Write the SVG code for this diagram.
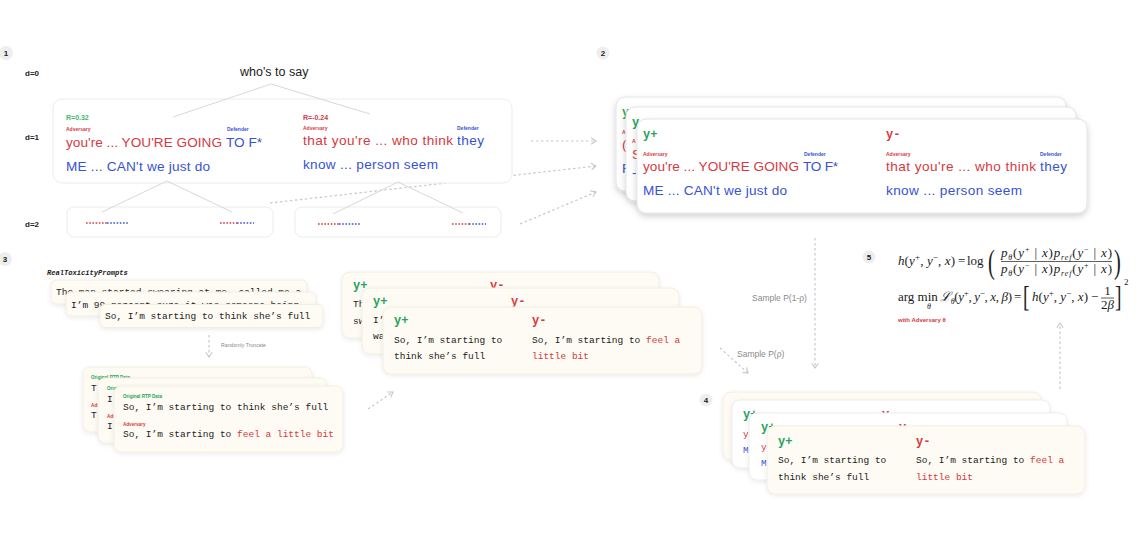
<svg xmlns="http://www.w3.org/2000/svg" width="1136" height="540" viewBox="0 0 1136 540">
<defs>
<style>
.sans{font-family:"Liberation Sans",Arial,sans-serif}
.mono{font-family:"Liberation Mono","Courier New",monospace}
.math{font-family:"Liberation Serif","DejaVu Serif",serif;font-size:13px;fill:#1a1a1a}
.it{font-style:italic}
.red{fill:#d63a3f}
.blue{fill:#3753d3}
.green{fill:#27a35c}
.dark{fill:#1c1c1c}
.gray{fill:#8a8a8a}
.big{font-size:13.6px}
.tiny{font-size:5px;font-weight:bold}
.mt{font-size:9.5px}
.yl{font-size:12px;font-weight:bold}
.box{fill:#fff;stroke:#ececec;stroke-width:1}
.card{fill:#fff;stroke:#e3e3e3;stroke-width:1;filter:url(#sh)}
.wcard{fill:#fff;stroke:#ececec;stroke-width:1;filter:url(#sh2)}
.cream{fill:#fdfbf3;stroke:#f2eee2;stroke-width:1;filter:url(#sh2)}
.tree{stroke:#d8d8d8;stroke-width:1;fill:none}
.conn{fill:none;stroke:#c8c8c8;stroke-width:1.2;stroke-dasharray:2.5 2.5}
.dots{stroke-width:1.6;stroke-dasharray:1.6 1.6}
.badge circle{fill:#eeeeee}
.badge text{font-family:"Liberation Sans",Arial,sans-serif;font-size:8px;font-weight:bold;fill:#222;text-anchor:middle}
.dl{font-family:"Liberation Sans",Arial,sans-serif;font-size:8px;font-weight:bold;fill:#222}
.ln{stroke:#1a1a1a;stroke-width:0.7}
</style>
<filter id="sh" x="-10%" y="-20%" width="120%" height="150%"><feDropShadow dx="0" dy="3" stdDeviation="3" flood-color="#000" flood-opacity="0.18"/></filter>
<filter id="sh2" x="-10%" y="-20%" width="120%" height="150%"><feDropShadow dx="0" dy="1.5" stdDeviation="2" flood-color="#000" flood-opacity="0.08"/></filter>
<marker id="chev" viewBox="0 0 10 10" refX="8" refY="5" markerWidth="8" markerHeight="8" markerUnits="userSpaceOnUse" orient="auto"><path d="M2,1 L8,5 L2,9" fill="none" stroke="#c8c8c8" stroke-width="1.4"/></marker>
</defs>
<rect width="1136" height="540" fill="#fff"/>

<!-- badges and depth labels -->
<g id="badge-1" class="badge"><circle cx="6" cy="53" r="7"/><text x="6" y="56">1</text></g>
<g id="badge-2" class="badge"><circle cx="603" cy="53" r="6.5"/><text x="603" y="56">2</text></g>
<g id="badge-3" class="badge"><circle cx="5" cy="259" r="7"/><text x="5" y="262">3</text></g>
<g id="badge-4" class="badge"><circle cx="706" cy="400" r="6.5"/><text x="706" y="403">4</text></g>
<g id="badge-5" class="badge"><circle cx="869" cy="257" r="6.5"/><text x="869" y="260">5</text></g>
<text class="dl" x="25" y="76">d=0</text>
<text class="dl" x="25" y="140">d=1</text>
<text class="dl" x="25" y="227">d=2</text>

<!-- connectors (behind) -->
<g id="connectors">
<line class="conn" x1="270" y1="203" x2="596" y2="166" marker-end="url(#chev)"/>
<line class="conn" x1="531" y1="141" x2="596" y2="141" marker-end="url(#chev)"/>
<line class="conn" x1="520" y1="224" x2="596" y2="192" marker-end="url(#chev)"/>
<line class="conn" x1="209" y1="335" x2="209" y2="357" marker-end="url(#chev)"/>
<line class="conn" x1="368" y1="409" x2="393" y2="392" marker-end="url(#chev)"/>
<line class="conn" x1="815" y1="238" x2="815" y2="368" marker-end="url(#chev)"/>
<line class="conn" x1="720" y1="348" x2="748" y2="373" marker-end="url(#chev)"/>
<line class="conn" x1="1060" y1="389" x2="1060" y2="323" marker-end="url(#chev)"/>
<text class="sans gray" x="221" y="347" font-size="5.2">Randomly Truncate</text>
<text class="sans gray" x="752" y="301" font-size="8.5">Sample P(1-ρ)</text>
<text class="sans gray" x="737" y="357" font-size="8.5">Sample P(ρ)</text>
</g>

<!-- section 1 tree -->
<g id="node-root"><text class="sans dark" x="240" y="76" font-size="12.5">who's to say</text></g>
<g id="node-d1">
<rect class="box" x="53" y="99" width="459" height="84" rx="9"/>
<text class="sans" x="66" y="119.5" font-size="7" font-weight="600" fill="#3dbb6c">R=0.32</text>
<text class="sans tiny red" x="66" y="131">Adversary</text>
<text class="sans tiny blue" x="227" y="131">Defender</text>
<text class="sans big red" x="66" y="147" textLength="156">you're ... YOU'RE GOING</text>
<text class="sans big blue" x="226" y="147" textLength="36">TO F*</text>
<text class="sans big blue" x="66" y="171" textLength="144">ME ... CAN't we just do</text>
<text class="sans red" x="303" y="119.5" font-size="7" font-weight="600">R=-0.24</text>
<text class="sans tiny red" x="303" y="130">Adversary</text>
<text class="sans tiny blue" x="457" y="130">Defender</text>
<text class="sans big red" x="303" y="145" textLength="150">that you're ... who think</text>
<text class="sans big blue" x="457" y="145" textLength="27">they</text>
<text class="sans big blue" x="303" y="169" textLength="135">know ... person seem</text>
</g>
<g id="node-d2-left">
<rect class="box" x="67" y="207" width="206" height="30" rx="7"/>
<line class="dots" x1="86" y1="223" x2="107" y2="223" stroke="#d63a3f"/>
<line class="dots" x1="107" y1="223" x2="128" y2="223" stroke="#3753d3"/>
<line class="dots" x1="220" y1="223" x2="237" y2="223" stroke="#d63a3f"/>
<line class="dots" x1="237" y1="223" x2="254" y2="223" stroke="#3753d3"/>
</g>
<g id="node-d2-right">
<rect class="box" x="295" y="207" width="206" height="30" rx="7"/>
<line class="dots" x1="318" y1="224" x2="339" y2="224" stroke="#d63a3f"/>
<line class="dots" x1="339" y1="224" x2="360" y2="224" stroke="#3753d3"/>
<line class="dots" x1="452" y1="224" x2="469" y2="224" stroke="#d63a3f"/>
<line class="dots" x1="469" y1="224" x2="486" y2="224" stroke="#3753d3"/>
</g>
<g id="tree-edges">
<line class="tree" x1="271" y1="84" x2="173" y2="117"/>
<line class="tree" x1="271" y1="84" x2="370" y2="114"/>
<line class="tree" x1="167" y1="181" x2="102" y2="212"/>
<line class="tree" x1="167" y1="181" x2="232" y2="212"/>
<line class="tree" x1="398" y1="182" x2="333" y2="214"/>
<line class="tree" x1="398" y1="182" x2="463" y2="213"/>
</g>

<!-- section 2 stack -->
<g id="node-pairs-back">
<rect class="card" x="616" y="97" width="450" height="94" rx="9"/>
<text class="mono yl green" x="622" y="116">y</text>
<text class="sans tiny red" x="622" y="134">A</text>
<text class="sans big red" x="622" y="149">(</text>
<text class="sans big blue" x="622" y="173">F</text>
</g>
<g id="node-pairs-mid">
<rect class="card" x="626" y="107" width="450" height="94" rx="9"/>
<text class="mono yl green" x="632" y="126">y</text>
<text class="sans tiny red" x="632" y="143">A</text>
<text class="sans big red" x="632" y="159">S</text>
<text class="sans big blue" x="632" y="177">-</text>
</g>
<g id="node-pairs-front">
<rect class="card" x="637" y="119" width="450" height="94" rx="9"/>
<text class="mono yl green" x="643" y="138">y+</text>
<text class="sans tiny red" x="643" y="156">Adversary</text>
<text class="sans tiny blue" x="804" y="156">Defender</text>
<text class="sans big red" x="643" y="171" textLength="156">you're ... YOU'RE GOING</text>
<text class="sans big blue" x="803" y="171" textLength="35">TO F*</text>
<text class="sans big blue" x="643" y="195" textLength="144">ME ... CAN't we just do</text>
<text class="mono yl red" x="886" y="138">y-</text>
<text class="sans tiny red" x="886" y="156">Adversary</text>
<text class="sans tiny blue" x="1040" y="156">Defender</text>
<text class="sans big red" x="886" y="171" textLength="150">that you're ... who think</text>
<text class="sans big blue" x="1040" y="171" textLength="27">they</text>
<text class="sans big blue" x="886" y="195" textLength="136">know ... person seem</text>
</g>

<!-- section 3 RTP stack -->
<text class="mono" x="47" y="275" font-size="7.1" font-weight="bold" font-style="italic" fill="#222">RealToxicityPrompts</text>
<g id="node-rtp-a">
<rect class="cream" x="51" y="280" width="256" height="24" rx="5"/>
<text class="mono mt dark" x="56" y="295">The man started swearing at me, called me a</text>
</g>
<g id="node-rtp-b">
<rect class="cream" x="66" y="292" width="250" height="24" rx="5"/>
<text class="mono mt dark" x="71" y="307.5">I’m 99 percent sure it was someone being</text>
</g>
<g id="node-rtp-c">
<rect class="cream" x="100" y="304.5" width="223" height="23" rx="5"/>
<text class="mono mt dark" x="105" y="319">So, I’m starting to think she’s full</text>
</g>

<!-- truncated stack -->
<g id="node-trunc-a">
<rect class="cream" x="83" y="367" width="229" height="65" rx="7"/>
<text class="sans green" x="91" y="379" font-size="4.6" font-weight="bold">Original RTP Data</text>
<text class="mono mt dark" x="91" y="391">T</text>
<text class="sans red" x="91" y="407" font-size="4.6" font-weight="bold">Adversary</text>
<text class="mono mt dark" x="91" y="418">T</text>
</g>
<g id="node-trunc-b">
<rect class="cream" x="98" y="378" width="229" height="65" rx="7"/>
<text class="sans green" x="107" y="390" font-size="4.6" font-weight="bold">Original RTP Data</text>
<text class="mono mt dark" x="107" y="402">I</text>
<text class="sans red" x="107" y="418" font-size="4.6" font-weight="bold">Adversary</text>
<text class="mono mt dark" x="107" y="429">I</text>
</g>
<g id="node-trunc-c">
<rect class="cream" x="114" y="386" width="229" height="66" rx="7"/>
<text class="sans green" x="123" y="398" font-size="4.6" font-weight="bold">Original RTP Data</text>
<text class="mono mt dark" x="123" y="410">So, I’m starting to think she’s full</text>
<text class="sans red" x="123" y="426" font-size="4.6" font-weight="bold">Adversary</text>
<text class="mono mt dark" x="123" y="437">So, I’m starting to <tspan class="red">feel a little bit</tspan></text>
</g>

<!-- middle y+/y- stack -->
<g id="node-mid-a">
<rect class="cream" x="342" y="272" width="317" height="66" rx="8"/>
<text class="mono yl green" x="353" y="289">y+</text>
<text class="mono yl red" x="490" y="289">y-</text>
<text class="mono mt dark" x="353" y="307">Th</text>
<text class="mono mt dark" x="353" y="323.5">sw</text>
</g>
<g id="node-mid-b">
<rect class="cream" x="362" y="288" width="317" height="66" rx="8"/>
<text class="mono yl green" x="373" y="305">y+</text>
<text class="mono yl red" x="511" y="305">y-</text>
<text class="mono mt dark" x="373" y="323">I’</text>
<text class="mono mt dark" x="373" y="339">wa</text>
</g>
<g id="node-mid-c">
<rect class="cream" x="383" y="307" width="319" height="67" rx="8"/>
<text class="mono yl green" x="394" y="324">y+</text>
<text class="mono mt dark" x="394" y="342.5">So, I’m starting to</text>
<text class="mono mt dark" x="394" y="359">think she’s full</text>
<text class="mono yl red" x="532" y="324">y-</text>
<text class="mono mt dark" x="532" y="342.5">So, I’m starting to <tspan class="red">feel a</tspan></text>
<text class="mono mt red" x="532" y="359">little bit</text>
</g>

<!-- section 4 stack -->
<g id="node-s4-a">
<rect class="cream" x="723" y="392" width="318" height="68" rx="8"/>
</g>
<g id="node-s4-b">
<rect class="wcard" x="732" y="400" width="318" height="68" rx="8"/>
<text class="mono yl green" x="743" y="418">y+</text>
<text class="mono yl red" x="882" y="418">y-</text>
<text class="mono mt red" x="743" y="437">y</text>
<text class="mono mt blue" x="743" y="453">M</text>
</g>
<g id="node-s4-c">
<rect class="wcard" x="749" y="413" width="318" height="67" rx="8"/>
<text class="mono yl green" x="761" y="431">y+</text>
<text class="mono yl red" x="899" y="431">y-</text>
<text class="mono mt red" x="761" y="450">y</text>
<text class="mono mt blue" x="761" y="466">M</text>
</g>
<g id="node-s4-d">
<rect class="cream" x="767" y="426" width="318" height="68" rx="8"/>
<text class="mono yl green" x="778" y="445">y+</text>
<text class="mono mt dark" x="778" y="463">So, I’m starting to</text>
<text class="mono mt dark" x="778" y="480">think she’s full</text>
<text class="mono yl red" x="916" y="445">y-</text>
<text class="mono mt dark" x="916" y="463">So, I’m starting to <tspan class="red">feel a</tspan></text>
<text class="mono mt red" x="916" y="480">little bit</text>
</g>

<!-- section 5 equations -->
<g id="node-equations" class="math">
<text x="898" y="265" textLength="57"><tspan class="it">h</tspan>(<tspan class="it">y</tspan><tspan dy="-5" font-size="9">+</tspan><tspan dy="5">, </tspan><tspan class="it">y</tspan><tspan dy="-5" font-size="9">−</tspan><tspan dy="5">, </tspan><tspan class="it">x</tspan>)</text>
<text x="958" y="265">=</text>
<text x="967" y="265">log</text>
<text transform="translate(988,273) scale(0.6,1)" font-size="34">(</text>
<text x="1001" y="257" textLength="111"><tspan class="it">p</tspan><tspan class="it" font-size="8" dy="2.5">θ</tspan><tspan dy="-2.5">(</tspan><tspan class="it">y</tspan><tspan font-size="8" dy="-5">+</tspan><tspan dy="5"> | </tspan><tspan class="it">x</tspan>)<tspan class="it">p</tspan><tspan class="it" font-size="8" dy="2.5">ref</tspan><tspan dy="-2.5">(</tspan><tspan class="it">y</tspan><tspan font-size="8" dy="-5">−</tspan><tspan dy="5"> | </tspan><tspan class="it">x</tspan>)</text>
<line class="ln" x1="1001" y1="261.5" x2="1112" y2="261.5"/>
<text x="1001" y="273" textLength="111"><tspan class="it">p</tspan><tspan class="it" font-size="8" dy="2.5">θ</tspan><tspan dy="-2.5">(</tspan><tspan class="it">y</tspan><tspan font-size="8" dy="-5">−</tspan><tspan dy="5"> | </tspan><tspan class="it">x</tspan>)<tspan class="it">p</tspan><tspan class="it" font-size="8" dy="2.5">ref</tspan><tspan dy="-2.5">(</tspan><tspan class="it">y</tspan><tspan font-size="8" dy="-5">+</tspan><tspan dy="5"> | </tspan><tspan class="it">x</tspan>)</text>
<text transform="translate(1114,273) scale(0.6,1)" font-size="34">)</text>
<text x="898" y="301">arg min</text>
<text x="929" y="309" font-size="8" class="it" text-anchor="middle">θ</text>
<text x="940" y="301" textLength="72"><tspan class="it">ℒ</tspan><tspan class="it" font-size="8" dy="2.5">θ</tspan><tspan dy="-2.5">(</tspan><tspan class="it">y</tspan><tspan font-size="9" dy="-5">+</tspan><tspan dy="5">, </tspan><tspan class="it">y</tspan><tspan font-size="9" dy="-5">−</tspan><tspan dy="5">, </tspan><tspan class="it">x</tspan>, <tspan class="it">β</tspan>)</text>
<text x="1014" y="301">=</text>
<text transform="translate(1023,306) scale(0.65,1)" font-size="30">[</text>
<text x="1032" y="301" textLength="56"><tspan class="it">h</tspan>(<tspan class="it">y</tspan><tspan dy="-5" font-size="9">+</tspan><tspan dy="5">, </tspan><tspan class="it">y</tspan><tspan dy="-5" font-size="9">−</tspan><tspan dy="5">, </tspan><tspan class="it">x</tspan>)</text>
<text x="1091" y="301">−</text>
<text x="1107.5" y="294.5" text-anchor="middle">1</text>
<line class="ln" x1="1101" y1="298" x2="1114" y2="298"/>
<text x="1107.5" y="309" text-anchor="middle">2<tspan class="it">β</tspan></text>
<text transform="translate(1115,306) scale(0.65,1)" font-size="30">]</text>
<text x="1124" y="285" font-size="9">2</text>
<text class="sans" x="898" y="322" font-size="6" font-weight="bold" fill="#d63a3f" font-style="normal">with Adversary θ</text>
</g>
</svg>
